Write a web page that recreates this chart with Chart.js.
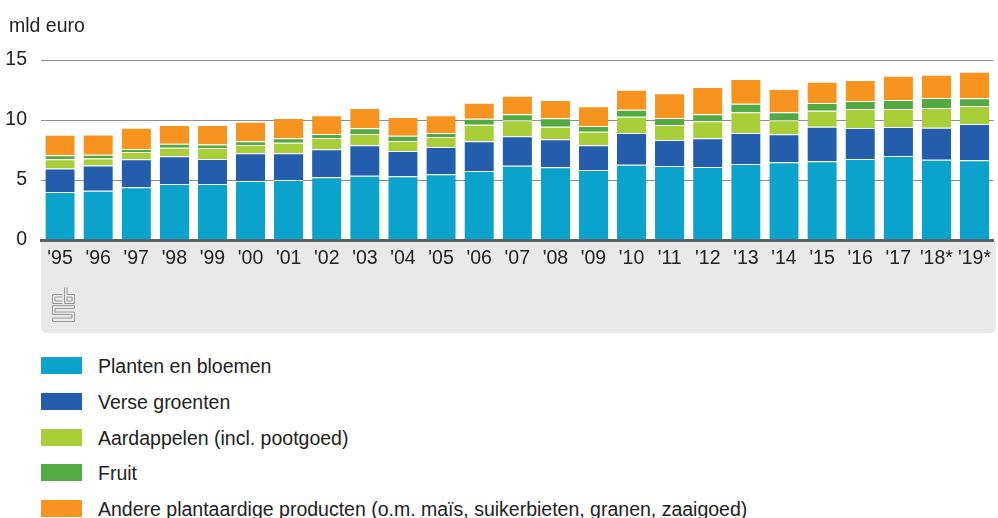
<!DOCTYPE html>
<html>
<head>
<meta charset="utf-8">
<script src="https://cdn.jsdelivr.net/npm/chart.js@4.4.1/dist/chart.umd.min.js"></script>
<style>
  html, body { margin: 0; padding: 0; background: #fff; }
  body { width: 998px; height: 518px; position: relative; overflow: hidden; font-family: "Liberation Sans", Arial, sans-serif; color: #222; }
  #wrap { position: absolute; left: 0; top: 0; width: 998px; height: 340px; }
  #unit { position: absolute; left: 9px; top: 12px; font-size: 19.5px; line-height: 26px; color: #222; }
  #legend { position: absolute; left: 41px; top: 357px; }
  .row { display: flex; align-items: flex-start; height: 17px; margin-bottom: 18.8px; }
  .sw { width: 41px; height: 17px; flex: none; }
  .lab { margin-left: 16px; font-size: 19.5px; line-height: 17px; position: relative; top: 1px; white-space: nowrap; color: #222; }
</style>
</head>
<body>
<div id="wrap"><canvas id="c" width="998" height="340"></canvas></div>
<div id="unit">mld euro</div>
<div id="legend"></div>
<script>
const years = ["'95","'96","'97","'98","'99","'00","'01","'02","'03","'04","'05","'06","'07","'08","'09","'10","'11","'12","'13","'14","'15","'16","'17","'18*","'19*"];
const seriesNames = ["Planten en bloemen","Verse groenten","Aardappelen (incl. pootgoed)","Fruit","Andere plantaardige producten (o.m. maïs, suikerbieten, granen, zaaigoed)"];
const planten    = [4.00,4.10,4.40,4.67,4.67,4.92,5.00,5.22,5.36,5.31,5.47,5.75,6.19,6.06,5.83,6.28,6.17,6.08,6.33,6.47,6.56,6.75,7.00,6.69,6.64];
const verse      = [1.95,2.10,2.33,2.30,2.08,2.30,2.22,2.34,2.53,2.11,2.28,2.47,2.45,2.33,2.06,2.64,2.16,2.39,2.59,2.34,2.88,2.58,2.42,2.67,3.03];
const aardappelen= [0.78,0.60,0.60,0.72,0.92,0.70,0.89,0.94,0.94,0.83,0.83,1.39,1.33,1.05,1.14,1.36,1.25,1.42,1.72,1.16,1.34,1.59,1.50,1.64,1.50];
const fruit      = [0.33,0.30,0.25,0.33,0.28,0.30,0.36,0.33,0.48,0.44,0.34,0.50,0.50,0.70,0.47,0.58,0.59,0.58,0.72,0.67,0.64,0.66,0.75,0.83,0.64];
const andere     = [1.72,1.70,1.78,1.56,1.64,1.64,1.70,1.56,1.69,1.56,1.47,1.33,1.56,1.53,1.64,1.67,2.05,2.28,2.06,1.94,1.77,1.75,2.02,1.95,2.22];
const yTicks = [0, 5, 10, 15];
const colors = ["#0ba3cb","#235dab","#a9cf38","#53aa42","#f7941f"];

const seriesData = [planten, verse, aardappelen, fruit, andere];

// HTML legend
const leg = document.getElementById('legend');
seriesNames.forEach((n, i) => {
  const r = document.createElement('div'); r.className = 'row';
  const s = document.createElement('div'); s.className = 'sw'; s.style.background = colors[i];
  const t = document.createElement('div'); t.className = 'lab'; t.textContent = n;
  r.appendChild(s); r.appendChild(t); leg.appendChild(r);
});

const panelPlugin = {
  id: 'panel',
  beforeDraw(chart) {
    const ctx = chart.ctx, a = chart.chartArea;
    ctx.save();
    ctx.fillStyle = '#e9e9e9';
    ctx.beginPath();
    ctx.roundRect(a.left, a.bottom, 996 - a.left, 333 - a.bottom, [0, 0, 5, 5]);
    ctx.fill();
    ctx.restore();
  },
  afterDraw(chart) {
    // CBS logo (decorative)
    const ctx = chart.ctx;
    ctx.save();
    ctx.strokeStyle = '#9a9a9a';
    ctx.lineWidth = 1;
    const x0 = 52.5, y0 = 287.5;
    ctx.beginPath();
    ctx.moveTo(x0 + 10, y0 + 7); ctx.lineTo(x0, y0 + 7); ctx.lineTo(x0, y0 + 16); ctx.lineTo(x0 + 10, y0 + 16);
    ctx.moveTo(x0 + 10, y0 + 9.5); ctx.lineTo(x0 + 2.5, y0 + 9.5); ctx.lineTo(x0 + 2.5, y0 + 13.5); ctx.lineTo(x0 + 10, y0 + 13.5);
    ctx.moveTo(x0 + 12, y0); ctx.lineTo(x0 + 12, y0 + 16); ctx.lineTo(x0 + 22, y0 + 16); ctx.lineTo(x0 + 22, y0 + 7); ctx.lineTo(x0 + 14.5, y0 + 7); ctx.lineTo(x0 + 14.5, y0);
    ctx.moveTo(x0 + 14.5, y0 + 9.5); ctx.lineTo(x0 + 19.5, y0 + 9.5); ctx.lineTo(x0 + 19.5, y0 + 13.5); ctx.lineTo(x0 + 14.5, y0 + 13.5); ctx.closePath();
    ctx.moveTo(x0 + 22, y0 + 18); ctx.lineTo(x0, y0 + 18); ctx.lineTo(x0, y0 + 27); ctx.lineTo(x0 + 19.5, y0 + 27);
    ctx.lineTo(x0 + 19.5, y0 + 30.5); ctx.lineTo(x0, y0 + 30.5); ctx.lineTo(x0, y0 + 34); ctx.lineTo(x0 + 22, y0 + 34);
    ctx.lineTo(x0 + 22, y0 + 24.5); ctx.lineTo(x0 + 2.5, y0 + 24.5); ctx.lineTo(x0 + 2.5, y0 + 21); ctx.lineTo(x0 + 22, y0 + 21); ctx.closePath();
    ctx.stroke();
    ctx.restore();
  }
};

Chart.defaults.font.family = '"Liberation Sans", Arial, sans-serif';
Chart.defaults.font.size = 19.5;
Chart.defaults.color = '#222';

new Chart(document.getElementById('c'), {
  type: 'bar',
  data: {
    labels: years,
    datasets: seriesNames.map((n, i) => ({
      label: n,
      data: seriesData[i],
      backgroundColor: colors[i],
      borderColor: '#ffffff',
      borderWidth: { top: 1, right: 0, bottom: 0, left: 0 },
      borderSkipped: 'start',
      barPercentage: 0.77,
      categoryPercentage: 1.0
    }))
  },
  options: {
    responsive: false,
    devicePixelRatio: 1,
    animation: false,
    layout: { padding: { top: 60, right: 0, bottom: 0, left: 0 } },
    plugins: { legend: { display: false }, tooltip: { enabled: false } },
    scales: {
      x: {
        stacked: true,
        grid: { display: false, drawTicks: false },
        border: { display: true, color: '#5f5f5f', width: 3 },
        ticks: { padding: 7, color: '#222', maxRotation: 0, autoSkip: false },
        afterFit(s) { s.height = 100; }
      },
      y: {
        stacked: true,
        min: 0, max: 15,
        afterBuildTicks(s) { s.ticks = yTicks.map(v => ({ value: v })); },
        grid: {
          drawTicks: false,
          color: ctx => ctx.tick && ctx.tick.value === 0 ? 'rgba(0,0,0,0)' : '#8f8f8f',
          lineWidth: 1
        },
        border: { display: false },
        ticks: { padding: 14, color: '#222' },
        afterFit(s) { s.width = 41; }
      }
    }
  },
  plugins: [panelPlugin]
});
</script>
</body>
</html>
